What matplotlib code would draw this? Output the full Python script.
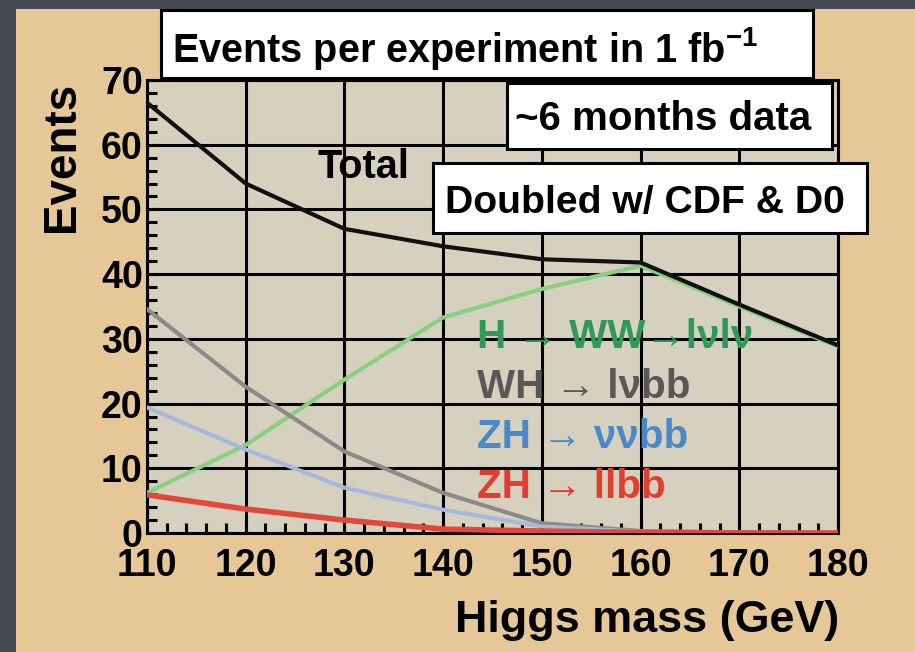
import matplotlib.pyplot as plt
from matplotlib.patches import Rectangle
from matplotlib.ticker import MultipleLocator

mass = [110, 120, 130, 140, 150, 160, 170, 180]
total = [66.5, 54.0, 47.0, 44.3, 42.3, 41.8, 35.3, 29.0]
h_ww = [6.2, 13.6, 23.7, 33.3, 37.7, 41.3, 35.0, 28.8]
wh_lvbb = [34.6, 22.6, 12.6, 6.2, 1.5, 0.3, 0.1, 0.0]
zh_vvbb = [19.4, 12.9, 7.0, 3.6, 1.0, 0.2, 0.0, 0.0]
zh_llbb = [5.9, 3.7, 2.0, 0.6, 0.3, 0.1, 0.0, 0.0]

W, H = 915, 652
sans = ["Liberation Sans", "DejaVu Sans"]


def fx(x):
    return x / W


def fy(y):
    return 1 - y / H


fig = plt.figure(figsize=(W / 100, H / 100), dpi=100, facecolor="#464a53")
renderer = fig.canvas.get_renderer()


def fit(t, width_px):
    # scale font so the text spans the width seen in the reference
    w = t.get_window_extent(renderer).width
    t.set_fontsize(t.get_fontsize() * width_px / w)
    return t


# tan slide panel
fig.add_artist(Rectangle((fx(16), 0), 1, fy(9), transform=fig.transFigure,
                         facecolor="#e6c898", edgecolor="none", zorder=-5))

ax = fig.add_axes([fx(147), fy(533), fx(838) - fx(147), fy(80) - fy(533)])
ax.set_facecolor("#d6d1bf")

ax.plot(mass, h_ww, color="#88cf80", lw=3, zorder=3)
ax.plot(mass, wh_lvbb, color="#8a8a8a", lw=3, zorder=3)
ax.plot(mass, zh_vvbb, color="#a6b9dc", lw=3, zorder=3)
ax.plot(mass, zh_llbb, color="#e2473a", lw=4, zorder=3.5)
ax.plot(mass, total, color="#111111", lw=3, zorder=4)

ax.set_xlim(110, 180)
ax.set_ylim(0, 70)
ax.xaxis.set_major_locator(MultipleLocator(10))
ax.yaxis.set_major_locator(MultipleLocator(10))
ax.xaxis.set_minor_locator(MultipleLocator(2))
ax.yaxis.set_minor_locator(MultipleLocator(2))
ax.grid(True, which="major", color="black", lw=2.2)
ax.set_axisbelow(True)
for s in ax.spines.values():
    s.set_linewidth(2.2)
ax.tick_params(which="both", direction="in", width=2.2, top=False, right=False)
ax.tick_params(which="major", length=8)
ax.tick_params(which="minor", length=7)
ax.tick_params(axis="x", pad=11)
ax.tick_params(axis="y", pad=3)
for lab in ax.get_xticklabels() + ax.get_yticklabels():
    lab.set_fontfamily(sans)
    lab.set_fontweight("bold")
    lab.set_fontsize(27)

xl = fig.text(fx(647), fy(632), "Higgs mass (GeV)", ha="center", va="baseline",
              fontsize=30, fontweight="bold", family=sans)
fit(xl, 385)
yl = fig.text(fx(62), fy(157), "Events", ha="center", va="center",
              fontsize=29, fontweight="bold", family=sans)
fit(yl, 150)
yl.set_rotation(90)


def box(x0, y0, x1, y1):
    fig.add_artist(Rectangle((fx(x0), fy(y1)), fx(x1) - fx(x0), fy(y0) - fy(y1),
                             transform=fig.transFigure, facecolor="white",
                             edgecolor="black", lw=2.2, zorder=5))


box(161, 10, 813, 78)
tt = fig.text(fx(172), fy(62), "Events per experiment in 1 fb$^{\\mathregular{-1}}$",
              ha="left", va="baseline", fontsize=30, fontweight="bold",
              family=sans, zorder=6)
fit(tt, 585)
box(507, 83, 832, 149)
t6 = fig.text(fx(663), fy(130), "~6 months data", ha="center", va="baseline",
              fontsize=30, fontweight="bold", family=sans, zorder=6)
fit(t6, 297)
box(433, 163, 867, 233)
td = fig.text(fx(645), fy(213), "Doubled w/ CDF & D0", ha="center", va="baseline",
              fontsize=30, fontweight="bold", family=sans, zorder=6)
fit(td, 400)

ttot = fig.text(fx(318), fy(178), "Total", ha="left", va="baseline",
                fontsize=28, fontweight="bold", family=sans, zorder=6)
fit(ttot, 92)

labels = [("H → WW→lνlν", "#2f9a58", 348),
          ("WH → lνbb", "#585858", 398),
          ("ZH → ννbb", "#4a88c8", 448),
          ("ZH → llbb", "#e03e2e", 498)]
texts = []
for txt, c, yb in labels:
    texts.append(fig.text(fx(477), fy(yb), txt, ha="left", va="baseline", color=c,
                          fontsize=28, fontweight="bold", family=sans, zorder=6))
fit(texts[1], 213)
for t in texts:
    t.set_fontsize(texts[1].get_fontsize())

fig.savefig("out.png", dpi=100, facecolor=fig.get_facecolor())
